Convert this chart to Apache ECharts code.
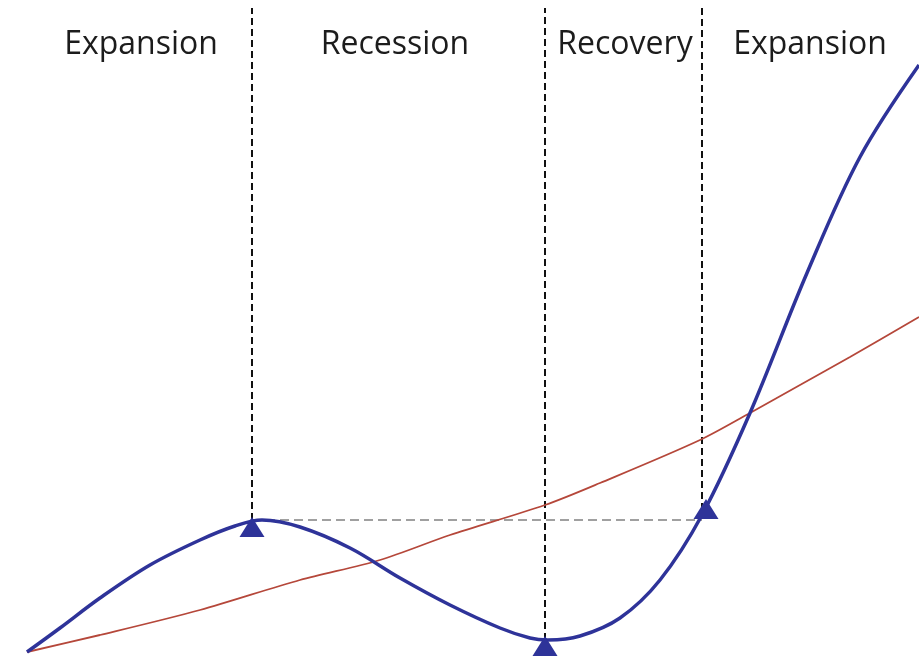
<!DOCTYPE html>
<html>
<head>
<meta charset="utf-8">
<script src="https://cdn.jsdelivr.net/npm/echarts@6/dist/echarts.min.js"></script>
<style>
  html, body { margin: 0; padding: 0; background: #fff; }
  #chart { width: 919px; height: 659px; }
</style>
</head>
<body>
<div id="chart"></div>
<script>
// Business cycle: output level (blue) against its long-run trend (red).
// x = time, y = level of activity (arbitrary units).
const cycleX = [27, 60, 100, 150, 200, 235, 262, 300, 350, 400, 450, 500, 530, 548, 580, 620, 660, 702, 750, 807, 860, 919];
const cycleY = [7, 31, 61, 94, 119, 133, 139, 132, 111, 81, 54, 31, 21, 19, 23, 41, 79, 144, 246, 386, 502, 594];

const trendX = [27, 100, 200, 300, 380, 450, 545, 600, 700, 750, 800, 850, 919];
const trendY = [7, 24, 49, 79, 99, 124, 154, 176, 219, 246, 274, 302, 342];

// Turning points: peak, trough, return to previous peak
const turnX = [252, 545, 706];
const turnY = [132, 13, 150];

// Phase boundaries and the previous-peak reference level
const boundaryX = [252, 545, 702];
const boundaryBottom = [139, 19, 149];
const boundaryTop = 651;
const peakLevel = 139;

const phaseNames = ['Expansion', 'Recession', 'Recovery', 'Expansion'];
const phaseX = [141, 395, 625, 810];
const phaseY = 614;

const zip = (xs, ys) => xs.map((x, i) => [x, ys[i]]);

const boundarySeries = boundaryX.map((x, i) => ({
  type: 'line',
  data: [[x, boundaryBottom[i]], [x, boundaryTop]],
  symbol: 'none',
  silent: true,
  lineStyle: { color: '#111', width: 2, type: [7, 4] },
  z: 1
}));

const chart = echarts.init(document.getElementById('chart'));
chart.setOption({
  animation: false,
  grid: { left: 0, right: 0, top: 0, bottom: 0 },
  xAxis: { type: 'value', min: 0, max: 919, show: false },
  yAxis: { type: 'value', min: 0, max: 659, show: false },
  series: [
    ...boundarySeries,
    {
      type: 'line',
      data: [[boundaryX[0], peakLevel], [boundaryX[2], peakLevel]],
      symbol: 'none',
      silent: true,
      lineStyle: { color: '#a0a0a0', width: 2, type: [9, 5] },
      z: 1
    },
    {
      type: 'line',
      data: zip(trendX, trendY),
      symbol: 'none',
      smooth: 0.3,
      lineStyle: { color: '#b5473a', width: 1.8 },
      z: 2
    },
    {
      type: 'line',
      data: zip(cycleX, cycleY),
      symbol: 'none',
      smooth: 0.35,
      lineStyle: { color: '#2e3399', width: 3.5 },
      z: 3
    },
    {
      type: 'scatter',
      data: zip(turnX, turnY),
      symbol: 'triangle',
      symbolSize: [25, 20],
      itemStyle: { color: '#2e3399', opacity: 1 },
      z: 4
    },
    {
      type: 'scatter',
      data: phaseNames.map((n, i) => ({ value: [phaseX[i], phaseY], name: n })),
      symbolSize: 0,
      silent: true,
      itemStyle: { opacity: 1 },
      label: {
        show: true,
        position: 'inside',
        formatter: p => p.name,
        fontFamily: 'Open Sans',
        fontSize: 32,
        color: '#1c1c1c',
        opacity: 1
      },
      z: 5
    }
  ]
});
</script>
</body>
</html>
